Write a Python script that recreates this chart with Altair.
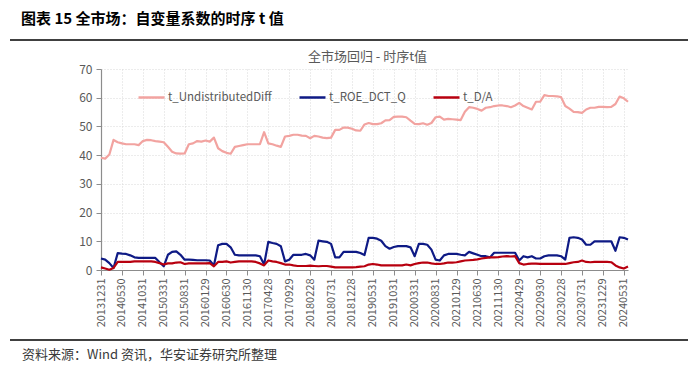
import altair as alt
import pandas as pd

dates = [
    "20131231",
    "20140130", "20140228", "20140331", "20140430", "20140530", "20140630", "20140731", "20140829", "20140930", "20141031", "20141128", "20141231",
    "20150130", "20150227", "20150331", "20150430", "20150529", "20150630", "20150731", "20150831", "20150930", "20151030", "20151130", "20151231",
    "20160129", "20160229", "20160331", "20160429", "20160531", "20160630", "20160729", "20160831", "20160930", "20161031", "20161130", "20161230",
    "20170126", "20170228", "20170331", "20170428", "20170531", "20170630", "20170731", "20170831", "20170929", "20171031", "20171130", "20171229",
    "20180131", "20180228", "20180330", "20180427", "20180531", "20180629", "20180731", "20180831", "20180928", "20181031", "20181130", "20181228",
    "20190131", "20190228", "20190329", "20190430", "20190531", "20190628", "20190731", "20190830", "20190930", "20191031", "20191129", "20191231",
    "20200123", "20200228", "20200331", "20200430", "20200529", "20200630", "20200731", "20200831", "20200930", "20201030", "20201130", "20201231",
    "20210129", "20210226", "20210331", "20210430", "20210531", "20210630", "20210730", "20210831", "20210930", "20211029", "20211130", "20211231",
    "20220128", "20220228", "20220331", "20220429", "20220531", "20220630", "20220729", "20220831", "20220930", "20221031", "20221130", "20221230",
    "20230131", "20230228", "20230331", "20230428", "20230531", "20230630", "20230731", "20230831", "20230928", "20231031", "20231130", "20231229",
    "20240131", "20240229", "20240329", "20240430", "20240531", "20240628",
]

tick_labels = [
    "20131231", "20140530", "20141031", "20150331", "20150831", "20160129",
    "20160630", "20161130", "20170428", "20170929", "20180228", "20180731",
    "20181228", "20190531", "20191031", "20200331", "20200831", "20210129",
    "20210630", "20211130", "20220429", "20220930", "20230228", "20230731",
    "20231229", "20240531",
]

t_undistributed_diff = [
    39.1,
    38.8, 40.2, 45.3, 44.5, 44.1, 43.8, 43.8, 43.8, 43.5, 44.9, 45.3, 45.2,
    44.9, 44.7, 44.5, 42.9, 41.2, 40.6, 40.5, 40.6, 43.8, 44.1, 44.9, 44.7,
    45.1, 44.7, 46.1, 42.4, 41.4, 40.8, 40.5, 42.9, 43.2, 43.5, 43.8, 43.8,
    43.8, 43.8, 48.0, 44.1, 43.8, 43.3, 42.9, 46.5, 46.7, 47.1, 47.1, 46.8,
    46.7, 45.9, 46.7, 46.5, 46.1, 45.9, 46.1, 48.8, 48.8, 49.6, 49.6, 49.2,
    48.6, 48.5, 50.7, 51.2, 50.8, 50.8, 51.1, 52.1, 52.2, 53.3, 53.4, 53.4,
    53.2, 52.0, 50.9, 50.8, 51.1, 50.6, 51.2, 53.2, 53.4, 52.4, 52.6, 52.5,
    52.4, 52.2, 55.1, 56.7, 56.5, 56.1, 55.5, 56.5, 56.7, 57.1, 57.3, 57.3,
    57.1, 56.7, 57.3, 58.2, 57.1, 56.5, 55.9, 58.6, 58.6, 60.9, 60.6, 60.6,
    60.5, 60.2, 57.1, 56.2, 55.1, 55.0, 54.7, 55.9, 56.5, 56.5, 56.8, 56.8,
    56.7, 56.8, 57.8, 60.4, 59.8, 58.6,
]

t_roe_dct_q = [
    4.0,
    3.6, 2.4, 0.7, 5.9, 5.7, 5.6, 5.1, 4.4, 4.2, 4.2, 4.2, 4.2,
    4.2, 2.7, 1.3, 5.3, 6.3, 6.5, 5.3, 3.6, 3.6, 3.5, 3.4, 3.4,
    3.4, 3.3, 1.6, 8.6, 9.1, 9.1, 7.9, 5.3, 5.1, 5.1, 5.1, 5.1,
    5.1, 4.8, 1.9, 9.8, 9.4, 9.1, 8.3, 3.0, 3.6, 5.3, 5.3, 5.3,
    5.6, 5.1, 3.6, 10.2, 10.0, 9.8, 9.1, 4.4, 4.4, 6.3, 6.3, 6.3,
    6.3, 5.9, 5.2, 11.2, 11.2, 10.9, 10.2, 8.3, 7.4, 8.0, 8.3, 8.3,
    8.3, 7.9, 4.8, 9.1, 9.1, 8.8, 7.1, 3.6, 3.3, 5.1, 5.6, 5.6,
    5.6, 5.3, 5.1, 6.3, 5.8, 5.3, 4.8, 4.8, 4.4, 6.0, 6.0, 6.0,
    6.0, 6.0, 6.0, 3.3, 4.8, 4.4, 4.8, 4.0, 4.0, 4.8, 5.1, 5.1,
    5.1, 4.8, 3.6, 11.2, 11.4, 11.2, 10.6, 8.8, 8.8, 10.0, 10.0, 10.0,
    10.0, 10.0, 6.7, 11.4, 11.2, 10.6,
]

t_d_a = [
    0.9,
    0.5, 0.1, 0.7, 2.8, 2.8, 2.8, 2.8, 3.0, 3.0, 3.0, 3.0, 3.0,
    2.8, 2.4, 1.9, 2.3, 2.3, 2.6, 2.7, 2.1, 2.3, 2.3, 2.3, 2.3,
    2.3, 2.4, 1.3, 2.8, 2.8, 3.0, 2.6, 2.8, 3.0, 3.0, 3.0, 3.0,
    2.8, 2.3, 1.6, 3.3, 3.0, 2.8, 2.4, 1.9, 1.9, 1.6, 1.4, 1.4,
    1.4, 1.5, 1.4, 1.3, 1.4, 1.4, 1.2, 0.9, 0.9, 0.9, 0.9, 0.9,
    1.0, 1.2, 1.3, 1.9, 2.1, 1.9, 1.6, 1.6, 1.6, 1.6, 1.6, 1.6,
    1.9, 1.6, 2.1, 2.4, 2.6, 2.6, 2.3, 2.1, 2.1, 2.3, 2.6, 2.6,
    2.7, 3.0, 3.3, 3.4, 3.5, 3.7, 4.0, 4.2, 4.4, 4.4, 4.5, 4.7,
    4.8, 4.7, 4.8, 2.4, 1.9, 2.1, 2.2, 2.2, 2.1, 2.1, 2.1, 2.1,
    2.1, 2.1, 2.1, 2.4, 2.7, 2.8, 3.3, 2.8, 2.7, 2.8, 2.8, 2.8,
    2.8, 2.7, 1.6, 0.9, 0.5, 1.2,
]

series_names = ["t_UndistributedDiff", "t_ROE_DCT_Q", "t_D/A"]
series_colors = ["#F2A3A0", "#0E1A85", "#B8000F"]

rows = []
for name, vals in zip(series_names, [t_undistributed_diff, t_roe_dct_q, t_d_a]):
    for d, v in zip(dates, vals):
        rows.append({"date": d, "series": name, "value": v})
df = pd.DataFrame(rows)

W, H = 527, 201
CJK = "Noto Sans CJK SC"
GRAY = "#595959"

lines = alt.Chart(df).mark_line(strokeWidth=2.2, strokeJoin="round").encode(
    x=alt.X(
        "date:O",
        sort=dates,
        scale=alt.Scale(type="point", padding=0),
        axis=alt.Axis(
            values=tick_labels,
            title=None,
            labelAngle=-90,
            labelFontSize=11,
            labelColor=GRAY,
            labelFont=CJK,
            labelPadding=3,
            tickSize=5,
            tickColor="#8C8C8C",
            domainColor="#8C8C8C",
            domainWidth=1.2,
            grid=True,
            gridColor="#D9D9D9",
            gridDash=[1, 2],
        ),
    ),
    y=alt.Y(
        "value:Q",
        scale=alt.Scale(domain=[0, 70], nice=False, zero=True),
        axis=alt.Axis(
            values=[0, 10, 20, 30, 40, 50, 60, 70],
            title=None,
            labelFontSize=12,
            labelColor=GRAY,
            labelFont=CJK,
            labelPadding=4,
            tickSize=5,
            tickColor="#8C8C8C",
            domainColor="#8C8C8C",
            domainWidth=1.2,
            grid=True,
            gridColor="#D9D9D9",
            gridDash=[1, 2],
        ),
    ),
    color=alt.Color(
        "series:N",
        sort=series_names,
        scale=alt.Scale(domain=series_names, range=series_colors),
        legend=alt.Legend(
            title=None,
            orient="none",
            legendX=36,
            legendY=14,
            direction="horizontal",
            symbolType="stroke",
            symbolSize=676,
            symbolStrokeWidth=2.5,
            labelFontSize=11.5,
            labelColor=GRAY,
            labelFont=CJK,
            labelOffset=2,
            columnPadding=22,
        ),
    ),
)

header_df = pd.DataFrame({"t": ["图表 15 全市场：自变量系数的时序 t 值"]})
header = alt.Chart(header_df).mark_text(
    align="left", baseline="middle", font=CJK, fontSize=15, fontWeight="bold", color="#000000"
).encode(x=alt.value(-80), y=alt.value(-50), text="t:N")

subtitle_df = pd.DataFrame({"t": ["全市场回归 - 时序t值"]})
subtitle = alt.Chart(subtitle_df).mark_text(
    align="center", baseline="middle", font=CJK, fontSize=13, color=GRAY
).encode(x=alt.value(W / 2 + 3), y=alt.value(-12), text="t:N")

footer_df = pd.DataFrame({"t": ["资料来源：Wind 资讯，华安证券研究所整理"]})
footer = alt.Chart(footer_df).mark_text(
    align="left", baseline="middle", font=CJK, fontSize=13, color="#3A3A3A"
).encode(x=alt.value(-79), y=alt.value(286), text="t:N")

top_rule = alt.Chart(header_df).mark_rule(color="#000000", strokeWidth=1.3).encode(
    x=alt.value(-91), x2=alt.value(587), y=alt.value(-29)
)
bottom_rule = alt.Chart(header_df).mark_rule(color="#000000", strokeWidth=1.3).encode(
    x=alt.value(-91), x2=alt.value(587), y=alt.value(271)
)

chart = alt.layer(lines, header, subtitle, footer, top_rule, bottom_rule).properties(
    width=W,
    height=H,
    autosize=alt.AutoSizeParams(type="none"),
    padding={"left": 93, "top": 61, "right": 60, "bottom": 100},
    background="#FFFFFF",
).configure_view(stroke=None)

chart.save("out.html", embed_options={"renderer": "svg", "actions": False})
